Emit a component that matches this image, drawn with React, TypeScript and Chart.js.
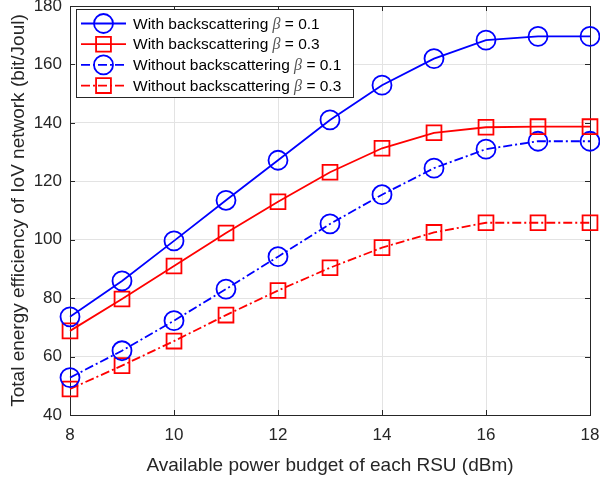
import React, { useEffect, useRef } from "react";
import { Chart, registerables } from "chart.js";

Chart.register(...registerables);

const powerBudget = [8, 9, 10, 11, 12, 13, 14, 15, 16, 17, 18];
const withBeta01 = [73.6, 85.9, 99.6, 113.5, 127.2, 141.0, 152.9, 162.0, 168.3, 169.6, 169.6];
const withBeta03 = [68.8, 79.7, 91.0, 102.3, 113.0, 123.1, 131.3, 136.6, 138.5, 138.7, 138.7];
const withoutBeta01 = [52.8, 62.0, 72.3, 83.1, 94.2, 105.4, 115.4, 124.5, 131.0, 133.7, 133.7];
const withoutBeta03 = [48.9, 56.9, 65.3, 74.2, 82.6, 90.4, 97.3, 102.5, 105.8, 105.8, 105.8];
const seriesLabels = [
  ["With backscattering ", "0.1"],
  ["With backscattering ", "0.3"],
  ["Without backscattering ", "0.1"],
  ["Without backscattering ", "0.3"],
];
const xTitle = "Available power budget of each RSU (dBm)";
const yTitle = "Total energy efficiency of IoV network (bit/Joul)";

const BLUE = "#0000ff";
const RED = "#ff0000";
const AXIS = "#262626";
const FONT = "'Liberation Sans', Arial, sans-serif";
const DASHDOT = [9, 3, 2, 3];

function drawMarker(ctx: CanvasRenderingContext2D, style: string, x: number, y: number, r: number) {
  ctx.beginPath();
  if (style === "circle") {
    ctx.arc(x, y, r, 0, Math.PI * 2);
  } else {
    const s = r * Math.SQRT1_2;
    ctx.rect(x - s, y - s, 2 * s, 2 * s);
  }
  ctx.stroke();
}

const framePlugin = {
  id: "frame",
  beforeDatasetsDraw(chart: any) {
    const { ctx, chartArea: a, scales } = chart;
    ctx.save();
    ctx.strokeStyle = AXIS;
    ctx.lineWidth = 1;
    const tl = 5;
    ctx.beginPath();
    scales.x.ticks.forEach((t: any) => {
      const px = Math.round(scales.x.getPixelForValue(t.value)) + 0.5;
      ctx.moveTo(px, a.bottom);
      ctx.lineTo(px, a.bottom - tl);
      ctx.moveTo(px, a.top);
      ctx.lineTo(px, a.top + tl);
    });
    scales.y.ticks.forEach((t: any) => {
      const py = Math.round(scales.y.getPixelForValue(t.value)) + 0.5;
      ctx.moveTo(a.left, py);
      ctx.lineTo(a.left + tl, py);
      ctx.moveTo(a.right, py);
      ctx.lineTo(a.right - tl, py);
    });
    ctx.stroke();
    ctx.strokeRect(Math.round(a.left) + 0.5, Math.round(a.top) + 0.5, Math.round(a.right - a.left), Math.round(a.bottom - a.top));
    ctx.restore();
  },
};

const legendPlugin = {
  id: "customLegend",
  afterDatasetsDraw(chart: any) {
    const { ctx, chartArea: a } = chart;
    const bx = a.left + 6;
    const by = a.top + 3;
    const bw = 277;
    const bh = 88;
    ctx.save();
    ctx.fillStyle = "#ffffff";
    ctx.fillRect(bx, by, bw, bh);
    ctx.strokeStyle = AXIS;
    ctx.lineWidth = 1;
    ctx.strokeRect(Math.round(bx) + 0.5, Math.round(by) + 0.5, bw, bh);
    chart.data.datasets.forEach((ds: any, i: number) => {
      const y = by + 14.5 + i * 20.7;
      const x0 = bx + 5;
      const x1 = bx + 50;
      ctx.strokeStyle = ds.borderColor;
      ctx.lineWidth = ds.borderWidth;
      ctx.setLineDash(ds.borderDash || []);
      ctx.beginPath();
      ctx.moveTo(x0, y);
      ctx.lineTo(x1, y);
      ctx.stroke();
      ctx.setLineDash([]);
      drawMarker(ctx, ds.pointStyle, (x0 + x1) / 2, y, ds.pointRadius);
      const [pre, val] = seriesLabels[i];
      let tx = bx + 57;
      ctx.fillStyle = "#000000";
      ctx.textBaseline = "middle";
      ctx.textAlign = "left";
      ctx.font = `15.5px ${FONT}`;
      ctx.fillText(pre, tx, y + 1);
      tx += ctx.measureText(pre).width;
      ctx.font = "italic 16px 'Liberation Serif', 'Times New Roman', serif";
      ctx.fillStyle = "#555555";
      ctx.fillText("\u03B2", tx, y + 1);
      tx += ctx.measureText("\u03B2").width;
      ctx.font = `15.5px ${FONT}`;
      ctx.fillStyle = "#000000";
      ctx.fillText(" = " + val, tx, y + 1);
    });
    ctx.restore();
  },
};

export default function App() {
  const canvasRef = useRef<HTMLCanvasElement | null>(null);

  useEffect(() => {
    const toPts = (ys: number[]) => powerBudget.map((x, i) => ({ x, y: ys[i] }));
    const mk = (label: string, ys: number[], color: string, style: string, dashed: boolean) => ({
      label,
      data: toPts(ys),
      borderColor: color,
      backgroundColor: "transparent",
      borderWidth: 1.8,
      borderDash: dashed ? DASHDOT : [],
      pointStyle: style,
      pointRadius: style === "circle" ? 9.5 : 10.5,
      pointBorderWidth: 1.8,
      pointBorderColor: color,
      pointBackgroundColor: "transparent",
      tension: 0,
      clip: false,
    });
    const chart = new Chart(canvasRef.current as HTMLCanvasElement, {
      type: "line",
      data: {
        datasets: [
          mk(seriesLabels[0].join(""), withBeta01, BLUE, "circle", false),
          mk(seriesLabels[1].join(""), withBeta03, RED, "rect", false),
          mk(seriesLabels[2].join(""), withoutBeta01, BLUE, "circle", true),
          mk(seriesLabels[3].join(""), withoutBeta03, RED, "rect", true),
        ] as any,
      },
      options: {
        animation: false,
        responsive: false,
        maintainAspectRatio: false,
        layout: { autoPadding: false, padding: { top: 6, right: 10, left: 0, bottom: 0 } },
        plugins: { legend: { display: false }, tooltip: { enabled: false } },
        scales: {
          x: {
            type: "linear",
            min: 8,
            max: 18,
            ticks: { stepSize: 2, color: AXIS, font: { family: FONT, size: 17 }, padding: 10 },
            grid: { color: "#e3e3e3", drawTicks: false },
            border: { display: false },
            title: { display: true, text: xTitle, color: AXIS, font: { family: FONT, size: 19 }, padding: { top: 0, bottom: 4 } },
            afterFit: (s: any) => {
              s.height = 66;
              s.paddingLeft = 0;
              s.paddingRight = 0;
            },
          },
          y: {
            type: "linear",
            min: 40,
            max: 180,
            ticks: { stepSize: 20, color: AXIS, font: { family: FONT, size: 17 }, padding: 8 },
            grid: { color: "#e3e3e3", drawTicks: false },
            border: { display: false },
            title: { display: true, text: yTitle, color: AXIS, font: { family: FONT, size: 19 }, padding: { top: 7, bottom: 0 } },
            afterFit: (s: any) => {
              s.width = 70;
              s.paddingTop = 0;
              s.paddingBottom = 0;
            },
          },
        },
      } as any,
      plugins: [framePlugin, legendPlugin],
    });
    return () => chart.destroy();
  }, []);

  return (
    <div style={{ position: "absolute", left: 0, top: 0, width: 600, height: 481, background: "#fff" }}>
      <canvas ref={canvasRef} width={600} height={481} style={{ display: "block" }} />
    </div>
  );
}
